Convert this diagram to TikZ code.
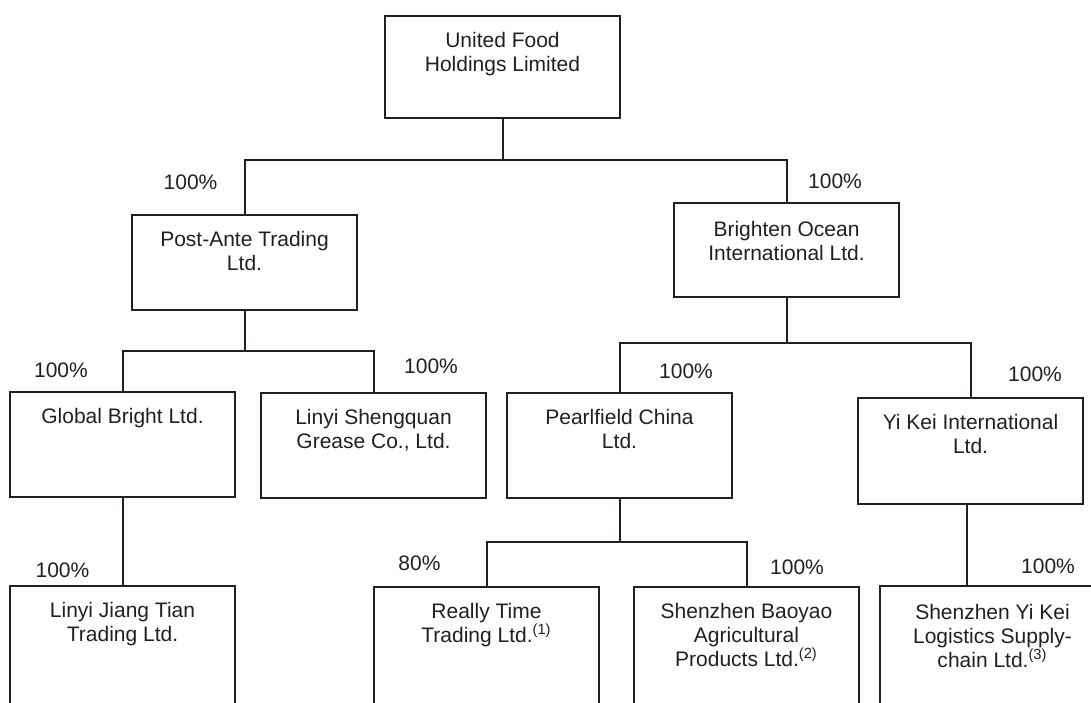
\documentclass[tikz,border=0pt]{standalone}
\usepackage{fontspec}
\setmainfont{Liberation Sans}
\definecolor{ink}{HTML}{231F20}
\tikzset{
  entity/.style={draw=ink,line width=1pt,inner sep=0pt,anchor=north west,
    minimum width=112.5pt,minimum height=52.5pt},
  entname/.style={anchor=north,align=center,inner sep=0pt,text=ink},
  share/.style={anchor=base,inner sep=0pt,text=ink},
  link/.style={draw=ink,line width=1pt}
}
\begin{document}
\begin{tikzpicture}[x=0.5pt,y=-0.5pt,font=\fontsize{10.5}{12}\selectfont]
\useasboundingbox (0,0) rectangle (1091,702);
\clip (0,0) rectangle (1091,702);
% boxes
\node[entity,minimum width=117.5pt,minimum height=51pt] (ufh) at (384,15) {};
\node[entity,minimum height=47.5pt] (pat) at (131,214) {};
\node[entity,minimum height=47pt] (boi) at (673,202) {};
\node[entity] (gbl) at (9,391) {};
\node[entity] (lsg) at (260,392) {};
\node[entity] (pcl) at (506,392) {};
\node[entity,minimum height=53pt] (yki) at (857,397) {};
\node[entity,minimum height=70pt] (ljt) at (9,585) {};
\node[entity,minimum height=70pt] (rtt) at (373,586) {};
\node[entity,minimum height=70pt] (sba) at (633,586) {};
\node[entity,minimum height=70pt] (syk) at (879,585) {};
% names
\node[entname] (ufh-t) at ([yshift=-8.4pt]ufh.north) {United Food\\Holdings Limited};
\node[entname] (pat-t) at ([yshift=-8.4pt]pat.north) {Post-Ante Trading\\Ltd.};
\node[entname] (boi-t) at ([yshift=-9.2pt]boi.north) {Brighten Ocean\\International Ltd.};
\node[entname] (gbl-t) at ([yshift=-8.4pt]gbl.north) {Global Bright Ltd.};
\node[entname] (lsg-t) at ([yshift=-8.4pt]lsg.north) {Linyi Shengquan\\Grease Co., Ltd.};
\node[entname] (pcl-t) at ([yshift=-8.4pt]pcl.north) {Pearlfield China\\Ltd.};
\node[entname] (yki-t) at ([yshift=-8.4pt]yki.north) {Yi Kei International\\Ltd.};
\node[entname] (ljt-t) at ([yshift=-8.4pt]ljt.north) {Linyi Jiang Tian\\Trading Ltd.};
\node[entname] (rtt-t) at ([yshift=-8.4pt]rtt.north) {Really Time\\Trading Ltd.\textsuperscript{(1)}};
\node[entname] (sba-t) at ([yshift=-8.4pt]sba.north) {Shenzhen Baoyao\\Agricultural\\Products Ltd.\textsuperscript{(2)}};
\node[entname] (syk-t) at ([yshift=-9.2pt]syk.north) {Shenzhen Yi Kei\\Logistics Supply-\\chain Ltd.\textsuperscript{(3)}};
% connectors
\coordinate (ufh-j) at (ufh.south |- 0,160);
\draw[link] (ufh.south) -- (ufh-j);
\draw[link] (pat.north) |- (ufh-j) -| (boi.north);
\coordinate (pat-j) at (pat.south |- 0,351);
\draw[link] (pat.south) -- (pat-j);
\draw[link] (gbl.north) |- (pat-j) -| (lsg.north);
\coordinate (boi-j) at (boi.south |- 0,343);
\draw[link] (boi.south) -- (boi-j);
\draw[link] (pcl.north) |- (boi-j) -| (yki.north);
\draw[link] (gbl.south) -- (ljt.north);
\coordinate (pcl-j) at (pcl.south |- 0,542);
\draw[link] (pcl.south) -- (pcl-j);
\draw[link] (rtt.north) |- (pcl-j) -| (sba.north);
\draw[link] ([xshift=-1.75pt]yki.south) -- ([xshift=-1.75pt]yki.south |- syk.north);
% shares
\node[share] (pat-s) at (190.5,189.5) {100\%};
\node[share] (boi-s) at (835,188.5) {100\%};
\node[share] (gbl-s) at (61,377.5) {100\%};
\node[share] (lsg-s) at (431,373.5) {100\%};
\node[share] (pcl-s) at (686,378.5) {100\%};
\node[share] (yki-s) at (1035,381.5) {100\%};
\node[share] (ljt-s) at (62.5,577.5) {100\%};
\node[share] (rtt-s) at (419.5,570.5) {80\%};
\node[share] (sba-s) at (797,574.5) {100\%};
\node[share] (syk-s) at (1048,573.5) {100\%};
\end{tikzpicture}
\end{document}
